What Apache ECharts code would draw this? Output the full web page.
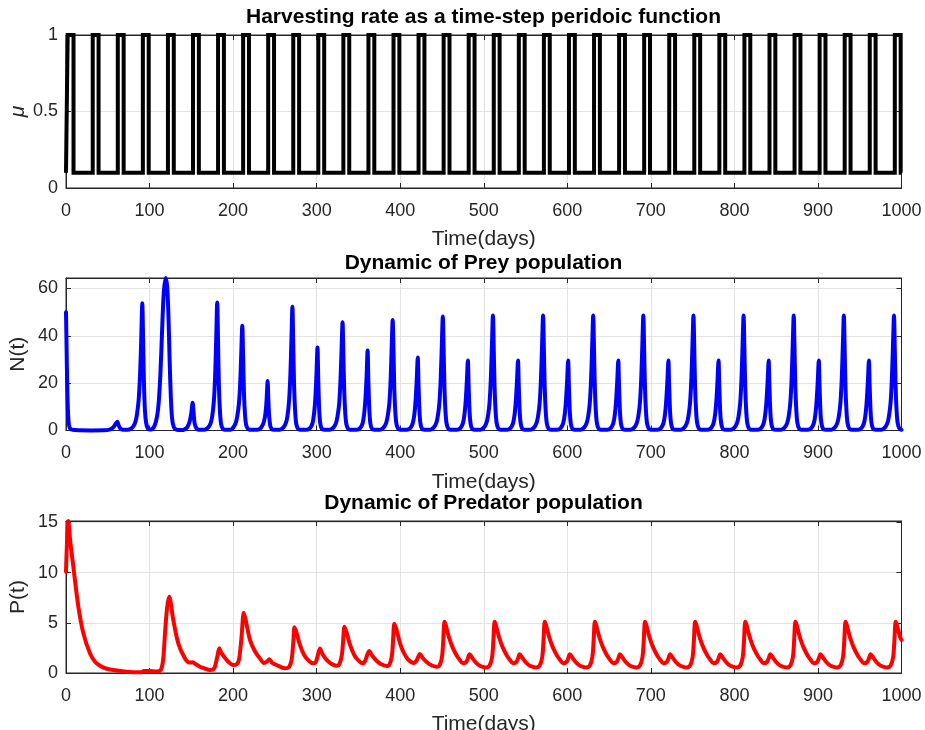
<!DOCTYPE html>
<html>
<head>
<meta charset="utf-8">
<script src="https://cdn.jsdelivr.net/npm/echarts@6/dist/echarts.min.js"></script>
<style>
  html, body { margin: 0; padding: 0; background: #ffffff; }
  #chart { width: 925px; height: 730px; }
</style>
</head>
<body>
<div id="chart"></div>
<script>
// ---- Harvesting rate: pulse switch times (days) and the two levels ----
const muRise = [2, 32, 62, 92, 122, 152, 182, 212, 242, 272, 302, 332, 362, 392, 422, 452, 482,
  512, 542, 572, 602, 632, 662, 692, 722, 752, 782, 812, 842, 872, 902, 932, 962, 992];
const muFall = [9, 39, 69, 99, 129, 159, 189, 219, 249, 279, 309, 339, 369, 399, 429, 459, 489,
  519, 549, 579, 609, 639, 669, 699, 729, 759, 789, 819, 849, 879, 909, 939, 969, 999];
const muHigh = 1;
const muLow = 0.1;

// ---- Prey population N(t): [day, value] ----
const preyPoints = [
  [0,49.9],[0.7,35],[1.5,18],[2.5,7],[3.5,2.5],[5,0.8],[8,0.3],[15,0.1],[30,0.05],[45,0.1],
  [52,0.4],[56,1.2],[59,2.5],[61.4,3.7],[63,2.2],[65,0.9],[68,0.3],[72,0.3],
  [76,0.5],[80,1.5],[83,3.5],[85,7],[87,13],[88.7,24],[90,38],[91.3,53.7],[92.3,38],[93.3,20],[94.5,8.5],[96,3],[98,0.8],[100,0.4],
  [103,0.6],[106,2],[109,6],[111,12],[113,24],[115,42],[117,58],[119.3,64.4],[121,61],[122.5,50],[124,30],[125.5,14],[127,5],[129,1.5],[132,0.4],[138,0.2],
  [142,0.5],[145,1.3],[148,3.8],[150,7.5],[151.6,11.7],[152.8,7],[154,3],[156,1],[159,0.3],
  [166,0.3],[170,1.2],[173,3],[175,6],[177,12.5],[178.5,23],[179.8,39],[181,54.1],[182,37],[183,19],[184.2,8.5],[185.5,3],[187.5,0.8],[190,0.3],
  [197,0.3],[200,1.2],[203,3],[205,6],[207,11.5],[208.5,20],[209.8,33],[211,44.2],[212,31],[213,16],[214.2,7],[215.5,2.6],[217.5,0.8],[220,0.3],
  [229,0.3],[233,1],[236,2.8],[238,5.5],[239.5,10],[240.4,15],[241.3,20.9],[242.2,13],[243.2,6],[244.4,2.2],[246,0.7],[249,0.3],
  [256,0.3],[260,1.2],[263,3],[265,6],[267,12.5],[268.5,23],[269.8,38],[271,52.3],[272,36],[273,19],[274.2,8.5],[275.5,3],[277.5,0.8],[280,0.3],
  [288,0.3],[292,1],[295,3],[297,7.5],[298.5,14],[299.8,24],[301,35],[301.9,22],[303,9],[304.2,3.3],[306,0.8],[309,0.3],
  [316,0.3],[320,1.2],[323,3],[325,6],[327,11.5],[328.5,21],[329.8,34],[331,45.7],[332,32],[333,17],[334.2,7.5],[335.5,2.8],[337.5,0.8],[340,0.3],
  [348,0.3],[352,1],[355,3],[357,7.5],[358.5,14],[359.8,23],[361,33.8],[361.9,21],[363,9],[364.2,3.3],[366,0.8],[369,0.3],
  [376,0.3],[380,1.2],[383,3],[385,6],[387,11.5],[388.5,21],[389.8,35],[391,46.7],[392,33],[393,17],[394.2,7.5],[395.5,2.8],[397.5,0.8],[400,0.3],
  [408,0.3],[412,1],[415,3],[417,7],[418.5,13],[419.8,21.5],[421,30.8],[421.9,20],[423,8.5],[424.2,3],[426,0.8],[429,0.3],
  [436,0.3],[440,1.2],[443,3],[445,6],[447,12],[448.5,22],[449.8,36],[451,48.1],[452,34],[453,18],[454.2,8],[455.5,3],[457.5,0.8],[460,0.3],
  [468,0.3],[472,1],[475,3],[477,7],[478.5,13],[479.8,21],[481,29.6],[481.9,19],[483,8],[484.2,3],[486,0.8],[489,0.3],
  [496,0.3],[500,1.2],[503,3],[505,6],[507,12],[508.5,22],[509.8,36],[511,48.6],[512,34],[513,18],[514.2,8],[515.5,3],[517.5,0.8],[520,0.3],
  [528,0.3],[532,1],[535,3],[537,7],[538.5,13],[539.8,21],[541,29.6],[541.9,19],[543,8],[544.2,3],[546,0.8],[549,0.3],
  [556,0.3],[560,1.2],[563,3],[565,6],[567,12],[568.5,22],[569.8,36],[571,48.6],[572,34],[573,18],[574.2,8],[575.5,3],[577.5,0.8],[580,0.3],
  [588,0.3],[592,1],[595,3],[597,7],[598.5,13],[599.8,21],[601,29.6],[601.9,19],[603,8],[604.2,3],[606,0.8],[609,0.3],
  [616,0.3],[620,1.2],[623,3],[625,6],[627,12],[628.5,22],[629.8,36],[631,48.6],[632,34],[633,18],[634.2,8],[635.5,3],[637.5,0.8],[640,0.3],
  [648,0.3],[652,1],[655,3],[657,7],[658.5,13],[659.8,21],[661,29.6],[661.9,19],[663,8],[664.2,3],[666,0.8],[669,0.3],
  [676,0.3],[680,1.2],[683,3],[685,6],[687,12],[688.5,22],[689.8,36],[691,48.6],[692,34],[693,18],[694.2,8],[695.5,3],[697.5,0.8],[700,0.3],
  [708,0.3],[712,1],[715,3],[717,7],[718.5,13],[719.8,21],[721,29.6],[721.9,19],[723,8],[724.2,3],[726,0.8],[729,0.3],
  [736,0.3],[740,1.2],[743,3],[745,6],[747,12],[748.5,22],[749.8,36],[751,48.6],[752,34],[753,18],[754.2,8],[755.5,3],[757.5,0.8],[760,0.3],
  [768,0.3],[772,1],[775,3],[777,7],[778.5,13],[779.8,21],[781,29.6],[781.9,19],[783,8],[784.2,3],[786,0.8],[789,0.3],
  [796,0.3],[800,1.2],[803,3],[805,6],[807,12],[808.5,22],[809.8,36],[811,48.6],[812,34],[813,18],[814.2,8],[815.5,3],[817.5,0.8],[820,0.3],
  [828,0.3],[832,1],[835,3],[837,7],[838.5,13],[839.8,21],[841,29.6],[841.9,19],[843,8],[844.2,3],[846,0.8],[849,0.3],
  [856,0.3],[860,1.2],[863,3],[865,6],[867,12],[868.5,22],[869.8,36],[871,48.6],[872,34],[873,18],[874.2,8],[875.5,3],[877.5,0.8],[880,0.3],
  [888,0.3],[892,1],[895,3],[897,7],[898.5,13],[899.8,21],[901,29.6],[901.9,19],[903,8],[904.2,3],[906,0.8],[909,0.3],
  [916,0.3],[920,1.2],[923,3],[925,6],[927,12],[928.5,22],[929.8,36],[931,48.6],[932,34],[933,18],[934.2,8],[935.5,3],[937.5,0.8],[940,0.3],
  [948,0.3],[952,1],[955,3],[957,7],[958.5,13],[959.8,21],[961,29.6],[961.9,19],[963,8],[964.2,3],[966,0.8],[969,0.3],
  [976,0.3],[980,1.2],[983,3],[985,6],[987,12],[988.5,22],[989.8,36],[991,48.6],[992,34],[993,18],[994.2,8],[995.5,3],[997.5,0.8],[1000,0.3]
];

// ---- Predator population P(t): [day, value] ----
const predatorPoints = [
  [0,10.1],[1,12.5],[2.8,15.15],[5,13.2],[8.8,10.6],[14.8,6.6],[20.8,3.95],[28.7,1.96],[35,1.1],[40.7,0.73],
  [48,0.45],[56.6,0.3],[72.6,0.13],[88,0.07],[91,0.08],[93,0.2],[100,0.2],[108.5,0.15],[112,0.2],
  [114.5,0.5],[116.5,1.5],[118.5,3.95],[121,6.5],[123.5,7.6],[125,7.2],[128.4,5.3],[134.4,2.95],[142.4,1.46],
  [148,1.05],[151.6,1.06],[155,0.9],[160.3,0.63],[166,0.45],[172.3,0.3],[176,0.35],[178.3,0.63],[181,1.6],
  [183.5,2.46],[186,2.0],[192.3,1.3],[200.2,0.8],[204,0.85],[207,1.3],[210,3.5],[212.8,6.0],[215,5.3],
  [220.2,3.3],[226,2.2],[232.1,1.46],[236.9,1.0],[240,1.1],[243.3,1.36],[247,1.0],[252.1,0.8],[262,0.47],
  [267,0.6],[270,1.3],[272,3],[273.5,4.55],[276,4.0],[280,2.8],[285,1.8],[291,1.2],[296,0.96],
  [299,1.1],[301.5,1.8],[304,2.45],[307,1.9],[312,1.3],[318,0.9],[323.9,0.73],
  [327,0.85],[330,1.7],[331.7,3.2],[333.3,4.6],[336,4.0],[340,2.8],[345,1.8],[350,1.25],[355,0.96],
  [358,1.2],[360.5,1.8],[363,2.2],[366,1.8],[372,1.2],[378,0.85],[384.5,0.7],
  [387,0.8],[390,1.7],[391.5,3.3],[393,4.9],[396,4.2],[400,2.9],[405,1.9],[410,1.3],[416.4,1.0],
  [420,1.3],[423.6,1.9],[427,1.5],[433,1.0],[438,0.75],[443.5,0.63],
  [447,0.75],[450,1.6],[451.5,3.2],[453,5.1],[454.5,4.8],[456,4.3],[459,3.4],[463,2.5],[468,1.7],[471,1.35],[475,0.96],
  [479,1.1],[481,1.45],[483,1.86],[486,1.55],[489,1.2],[493,0.85],[497,0.65],[502.5,0.55],
  [507,0.75],[510,1.6],[511.5,3.2],[513,5.1],[514.5,4.8],[516,4.3],[519,3.4],[523,2.5],[528,1.7],[531,1.35],[535,0.96],
  [539,1.1],[541,1.45],[543,1.86],[546,1.55],[549,1.2],[553,0.85],[557,0.65],[562.5,0.55],
  [567,0.75],[570,1.6],[571.5,3.2],[573,5.1],[574.5,4.8],[576,4.3],[579,3.4],[583,2.5],[588,1.7],[591,1.35],[595,0.96],
  [599,1.1],[601,1.45],[603,1.86],[606,1.55],[609,1.2],[613,0.85],[617,0.65],[622.5,0.55],
  [627,0.75],[630,1.6],[631.5,3.2],[633,5.1],[634.5,4.8],[636,4.3],[639,3.4],[643,2.5],[648,1.7],[651,1.35],[655,0.96],
  [659,1.1],[661,1.45],[663,1.86],[666,1.55],[669,1.2],[673,0.85],[677,0.65],[682.5,0.55],
  [687,0.75],[690,1.6],[691.5,3.2],[693,5.1],[694.5,4.8],[696,4.3],[699,3.4],[703,2.5],[708,1.7],[711,1.35],[715,0.96],
  [719,1.1],[721,1.45],[723,1.86],[726,1.55],[729,1.2],[733,0.85],[737,0.65],[742.5,0.55],
  [747,0.75],[750,1.6],[751.5,3.2],[753,5.1],[754.5,4.8],[756,4.3],[759,3.4],[763,2.5],[768,1.7],[771,1.35],[775,0.96],
  [779,1.1],[781,1.45],[783,1.86],[786,1.55],[789,1.2],[793,0.85],[797,0.65],[802.5,0.55],
  [807,0.75],[810,1.6],[811.5,3.2],[813,5.1],[814.5,4.8],[816,4.3],[819,3.4],[823,2.5],[828,1.7],[831,1.35],[835,0.96],
  [839,1.1],[841,1.45],[843,1.86],[846,1.55],[849,1.2],[853,0.85],[857,0.65],[862.5,0.55],
  [867,0.75],[870,1.6],[871.5,3.2],[873,5.1],[874.5,4.8],[876,4.3],[879,3.4],[883,2.5],[888,1.7],[891,1.35],[895,0.96],
  [899,1.1],[901,1.45],[903,1.86],[906,1.55],[909,1.2],[913,0.85],[917,0.65],[922.5,0.55],
  [927,0.75],[930,1.6],[931.5,3.2],[933,5.1],[934.5,4.8],[936,4.3],[939,3.4],[943,2.5],[948,1.7],[951,1.35],[955,0.96],
  [959,1.1],[961,1.45],[963,1.86],[966,1.55],[969,1.2],[973,0.85],[977,0.65],[982.5,0.55],
  [987,0.75],[990,1.6],[991.5,3.2],[993,5.1],[994.5,4.8],[996,4.3],[999,3.45],[1000,3.3]
];

// ---- Panel titles and axis names ----
const panelTitles = [
  'Harvesting rate as a time-step peridoic function',
  'Dynamic of Prey population',
  'Dynamic of Predator population'
];
const yNames = ['μ', 'N(t)', 'P(t)'];
const xName = 'Time(days)';
const yRanges = [[0, 1, 0.5], [0, 64.4, 20], [0, 15.15, 5]];

// Build the stepped harvesting series from its switch times.
const muPoints = [[0, muLow]];
muRise.forEach((r, i) => {
  muPoints.push([r, muLow], [r, muHigh], [muFall[i], muHigh], [muFall[i], muLow]);
});
muPoints.push([1000, muLow]);

const FONT = '"Liberation Sans", Arial, Helvetica, sans-serif';
const AXIS = '#262626';
const GRIDC = '#e3e3e3';
const TICK_FS = 18;
const LABEL_FS = 21;
const gridTops = [35, 278, 521];
const gridHeights = [153, 152.5, 152];

const grids = gridTops.map((t, i) => ({
  left: 66, right: 23.5, top: t, height: gridHeights[i],
  containLabel: false, outerBoundsMode: 'none',
  show: true, borderColor: AXIS, borderWidth: 1, backgroundColor: 'transparent'
}));

const xAxes = [];
const yAxes = [];
for (let i = 0; i < 3; i++) {
  const base = {
    gridIndex: i, type: 'value', min: 0, max: 1000, interval: 100
  };
  xAxes.push(Object.assign({}, base, {
    position: 'bottom',
    name: xName, nameLocation: 'middle', nameGap: 41, nameMoveOverlap: false,
    nameTextStyle: { fontFamily: FONT, fontSize: LABEL_FS, color: AXIS },
    axisLine: { show: true, onZero: false, lineStyle: { color: AXIS, width: 1 } },
    axisTick: { show: true, inside: true, length: 5, lineStyle: { color: AXIS, width: 1 } },
    axisLabel: { show: true, fontFamily: FONT, fontSize: TICK_FS, color: AXIS, margin: 14, formatter: v => String(v) },
    splitLine: { show: true, lineStyle: { color: GRIDC, width: 1 } }
  }));
  xAxes.push(Object.assign({}, base, {
    position: 'top',
    axisLine: { show: true, onZero: false, lineStyle: { color: AXIS, width: 1 } },
    axisTick: { show: true, inside: true, length: 5, lineStyle: { color: AXIS, width: 1 } },
    axisLabel: { show: false },
    splitLine: { show: false }
  }));
  const [ymin, ymax, yint] = yRanges[i];
  const ybase = { gridIndex: i, type: 'value', min: ymin, max: ymax, interval: yint };
  yAxes.push(Object.assign({}, ybase, {
    position: 'left',
    name: yNames[i], nameLocation: 'middle', nameGap: 37, nameRotate: 90, nameMoveOverlap: false,
    nameTextStyle: { fontFamily: FONT, fontSize: LABEL_FS, color: AXIS, fontStyle: i === 0 ? 'italic' : 'normal' },
    axisLine: { show: true, onZero: false, lineStyle: { color: AXIS, width: 1 } },
    axisTick: { show: true, inside: true, length: 5, lineStyle: { color: AXIS, width: 1 } },
    axisLabel: {
      show: true, fontFamily: FONT, fontSize: TICK_FS, color: AXIS, margin: 8,
      formatter: v => (Math.abs(v / yint - Math.round(v / yint)) < 1e-6 ? String(v) : '')
    },
    splitLine: { show: true, lineStyle: { color: GRIDC, width: 1 } }
  }));
  yAxes.push(Object.assign({}, ybase, {
    position: 'right',
    axisLine: { show: true, onZero: false, lineStyle: { color: AXIS, width: 1 } },
    axisTick: { show: true, inside: true, length: 5, lineStyle: { color: AXIS, width: 1 } },
    axisLabel: { show: false },
    splitLine: { show: false }
  }));
}

const titleCentres = [18, 264, 504];
const titles = panelTitles.map((txt, i) => ({
  text: txt,
  left: 483.5, top: titleCentres[i] - 11,
  textAlign: 'center',
  padding: 0,
  textStyle: { fontFamily: FONT, fontSize: LABEL_FS, fontWeight: 'bold', color: '#000000' }
}));

function lineSeries(idx, data, color) {
  return {
    type: 'line', xAxisIndex: idx * 2, yAxisIndex: idx * 2, data: data,
    showSymbol: false, symbol: 'none', clip: false, animation: false,
    lineStyle: { color: color, width: 4, join: 'round', cap: 'round' },
    z: 3
  };
}

const muSeries = lineSeries(0, muPoints, '#000000');
muSeries.lineStyle.join = 'miter';
muSeries.lineStyle.cap = 'butt';
const preySeries = lineSeries(1, preyPoints, '#0000ff');
preySeries.smooth = 0.3;
const predSeries = lineSeries(2, predatorPoints, '#ff0000');
predSeries.smooth = 0.3;

const chart = echarts.init(document.getElementById('chart'), null, { renderer: 'canvas' });
chart.setOption({
  animation: false,
  backgroundColor: '#ffffff',
  title: titles,
  grid: grids,
  xAxis: xAxes,
  yAxis: yAxes,
  series: [muSeries, preySeries, predSeries]
});
</script>
</body>
</html>
